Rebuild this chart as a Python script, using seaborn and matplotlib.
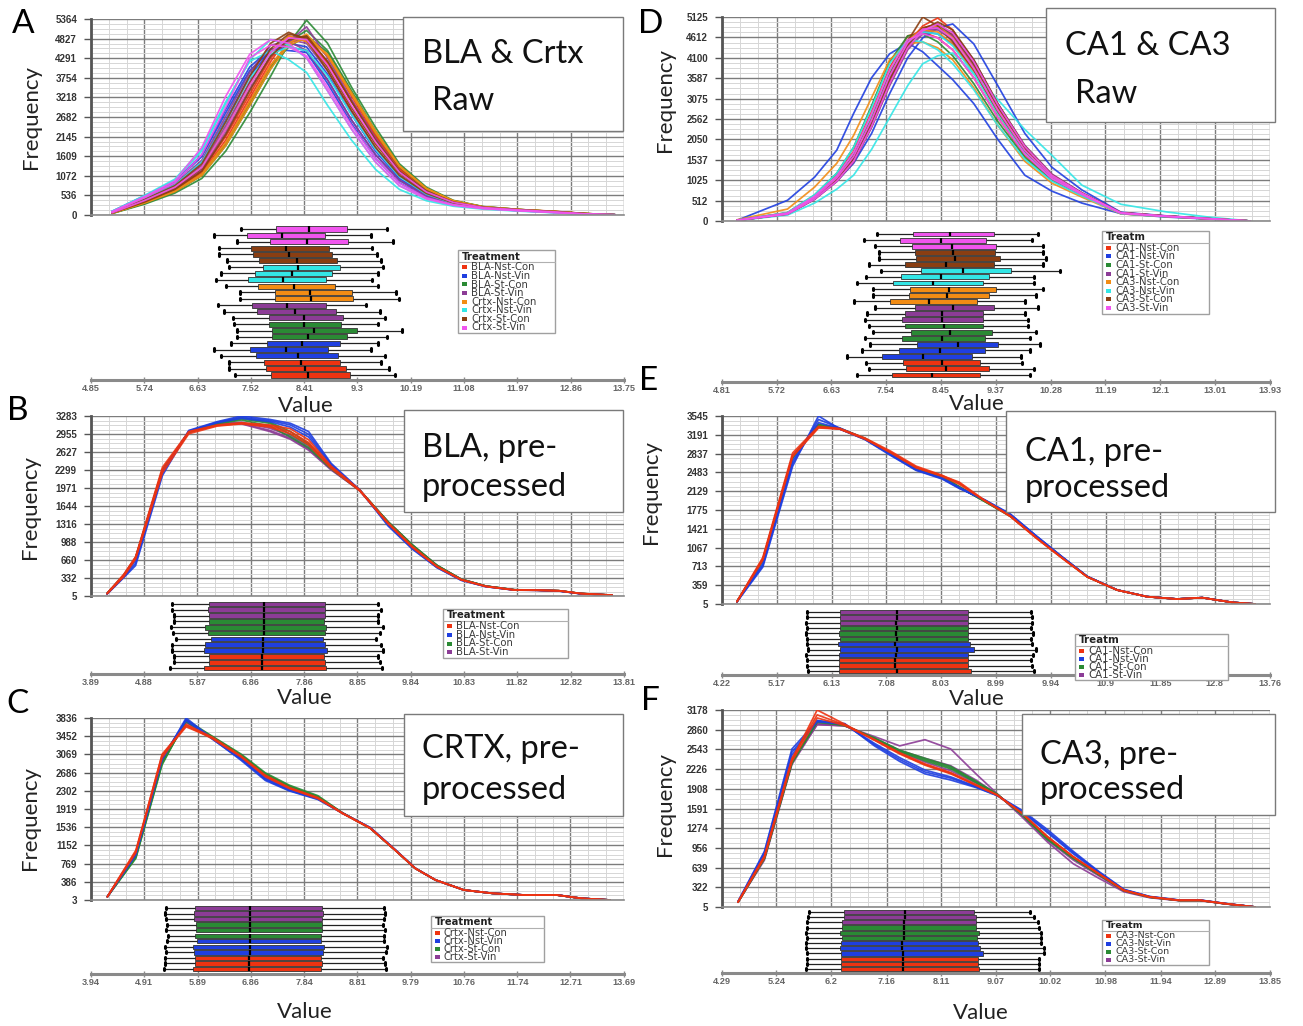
import numpy as np
import pandas as pd
import matplotlib
matplotlib.use("Agg")
import matplotlib.pyplot as plt
import seaborn as sns
from matplotlib.patches import Rectangle
from matplotlib.lines import Line2D
from matplotlib.font_manager import FontProperties

# ============================ DATA ============================
colors8 = ["#ee3311", "#1f3fe0", "#2a8a34", "#8c3c96",
           "#f28c14", "#33e6e6", "#8a3e12", "#f055ee"]

trt_A = ["BLA-Nst-Con", "BLA-Nst-Vin", "BLA-St-Con", "BLA-St-Vin",
         "Crtx-Nst-Con", "Crtx-Nst-Vin", "Crtx-St-Con", "Crtx-St-Vin"]
trt_B = ["BLA-Nst-Con", "BLA-Nst-Vin", "BLA-St-Con", "BLA-St-Vin"]
trt_C = ["Crtx-Nst-Con", "Crtx-Nst-Vin", "Crtx-St-Con", "Crtx-St-Vin"]
trt_D = ["CA1-Nst-Con", "CA1-Nst-Vin", "CA1-St-Con", "CA1-St-Vin",
         "CA3-Nst-Con", "CA3-Nst-Vin", "CA3-St-Con", "CA3-St-Vin"]
trt_E = ["CA1-Nst-Con", "CA1-Nst-Vin", "CA1-St-Con", "CA1-St-Vin"]
trt_F = ["CA3-Nst-Con", "CA3-Nst-Vin", "CA3-St-Con", "CA3-St-Vin"]

xtl_A = ["4.85", "5.74", "6.63", "7.52", "8.41", "9.3", "10.19", "11.08", "11.97", "12.86", "13.75"]
xtl_B = ["3.89", "4.88", "5.87", "6.86", "7.86", "8.85", "9.84", "10.83", "11.82", "12.82", "13.81"]
xtl_C = ["3.94", "4.91", "5.89", "6.86", "7.84", "8.81", "9.79", "10.76", "11.74", "12.71", "13.69"]
xtl_D = ["4.81", "5.72", "6.63", "7.54", "8.45", "9.37", "10.28", "11.19", "12.1", "13.01", "13.93"]
xtl_E = ["4.22", "5.17", "6.13", "7.08", "8.03", "8.99", "9.94", "10.9", "11.85", "12.8", "13.76"]
xtl_F = ["4.29", "5.24", "6.2", "7.16", "8.11", "9.07", "10.02", "10.98", "11.94", "12.89", "13.85"]

ytl_A = ["0", "536", "1072", "1609", "2145", "2682", "3218", "3754", "4291", "4827", "5364"]
ytl_B = ["5", "332", "660", "988", "1316", "1644", "1971", "2299", "2627", "2955", "3283"]
ytl_C = ["3", "386", "769", "1152", "1536", "1919", "2302", "2686", "3069", "3452", "3836"]
ytl_D = ["0", "512", "1025", "1537", "2050", "2562", "3075", "3587", "4100", "4612", "5125"]
ytl_E = ["5", "359", "713", "1067", "1421", "1775", "2129", "2483", "2837", "3191", "3545"]
ytl_F = ["5", "322", "639", "956", "1274", "1591", "1908", "2226", "2543", "2860", "3178"]

# ---- Panel A: raw BLA & Crtx (3 curves per treatment, same order as trt_A)
xgrid_A = [5.2, 5.75, 6.25, 6.7, 7.1, 7.5, 7.85, 8.15, 8.45, 8.8, 9.2, 9.6, 10.0, 10.45, 10.9, 11.4, 12.0, 12.6, 13.1, 13.6]
curves_A = [
    [50, 330, 650, 1100, 1950, 3100, 4100, 4700, 4900, 4350, 3250, 2200, 1300, 700, 380, 220, 150, 100, 40, 5],
    [60, 360, 700, 1200, 2150, 3300, 4300, 4800, 4850, 4200, 3100, 2100, 1250, 680, 360, 210, 140, 90, 35, 5],
    [55, 340, 680, 1150, 2050, 3200, 4200, 4900, 4750, 4150, 3150, 2150, 1280, 690, 370, 215, 145, 95, 40, 5],
    [100, 530, 920, 1650, 2900, 4050, 4550, 4500, 4450, 3600, 2500, 1550, 880, 480, 280, 180, 120, 70, 25, 5],
    [90, 500, 900, 1600, 2800, 3950, 4500, 4600, 4500, 3700, 2600, 1650, 950, 520, 300, 190, 125, 75, 25, 5],
    [70, 450, 830, 1450, 2600, 3800, 4500, 4700, 4600, 3850, 2750, 1750, 1000, 550, 310, 190, 125, 75, 25, 5],
    [40, 300, 600, 1000, 1750, 2800, 3800, 4700, 5330, 4700, 3500, 2400, 1400, 760, 400, 230, 150, 95, 40, 5],
    [45, 320, 640, 1080, 1900, 3000, 4000, 4750, 5050, 4500, 3400, 2300, 1350, 730, 390, 225, 150, 90, 38, 5],
    [50, 340, 660, 1100, 1950, 3050, 4050, 4600, 4900, 4450, 3350, 2250, 1320, 710, 380, 220, 145, 90, 35, 5],
    [60, 380, 730, 1250, 2250, 3450, 4350, 4750, 5150, 4300, 3150, 2100, 1200, 650, 350, 205, 140, 85, 32, 5],
    [70, 420, 790, 1350, 2450, 3650, 4500, 4800, 4700, 3950, 2850, 1850, 1080, 590, 330, 200, 135, 80, 30, 5],
    [80, 460, 850, 1500, 2700, 3900, 4650, 4750, 4500, 3700, 2600, 1650, 950, 520, 300, 190, 125, 75, 28, 5],
    [60, 400, 760, 1300, 2350, 3550, 4450, 4900, 4750, 4050, 2950, 1950, 1150, 620, 340, 200, 140, 80, 30, 5],
    [45, 330, 640, 1080, 1900, 3000, 4000, 4650, 4850, 4400, 3350, 2300, 1350, 730, 390, 225, 150, 95, 38, 5],
    [50, 340, 660, 1120, 1980, 3100, 4100, 4700, 4950, 4350, 3300, 2250, 1330, 720, 385, 220, 148, 92, 36, 5],
    [90, 520, 950, 1750, 3050, 4250, 4800, 4650, 4300, 3400, 2350, 1450, 800, 440, 265, 175, 115, 65, 22, 5],
    [100, 540, 980, 1800, 3100, 4200, 4500, 4250, 3900, 3000, 2050, 1250, 700, 390, 240, 160, 105, 60, 20, 5],
    [70, 440, 820, 1450, 2550, 3750, 4400, 4600, 4500, 3800, 2750, 1800, 1050, 570, 320, 195, 130, 78, 28, 5],
    [70, 430, 800, 1400, 2550, 3800, 4700, 5000, 4800, 3950, 2850, 1850, 1080, 590, 330, 200, 135, 80, 30, 5],
    [60, 390, 740, 1280, 2350, 3600, 4550, 4950, 4850, 4050, 2950, 1950, 1150, 620, 345, 205, 140, 85, 32, 5],
    [55, 360, 700, 1200, 2200, 3400, 4350, 4800, 4900, 4200, 3100, 2050, 1200, 650, 355, 210, 142, 88, 34, 5],
    [90, 510, 930, 1850, 3250, 4400, 4800, 4700, 4300, 3400, 2350, 1450, 800, 440, 265, 175, 115, 65, 22, 5],
    [80, 480, 880, 1650, 2950, 4300, 4650, 4600, 4350, 3500, 2450, 1550, 870, 470, 280, 180, 118, 68, 24, 5],
    [60, 400, 760, 1300, 2350, 3550, 4450, 4850, 4800, 4100, 3000, 2000, 1170, 630, 345, 205, 140, 85, 32, 5],
]
# box stats [low whisker, Q1, median, Q3, high whisker], bottom row first
boxes_A = [
    [7.25, 7.86, 8.48, 9.18, 9.92], [7.16, 7.77, 8.43, 9.10, 9.82], [7.16, 7.74, 8.35, 9.00, 9.69],
    [7.02, 7.61, 8.30, 8.98, 9.76], [6.91, 7.51, 8.11, 8.80, 9.53], [7.18, 7.79, 8.38, 9.00, 9.64],
    [7.29, 7.87, 8.48, 9.12, 9.80], [7.29, 7.87, 8.57, 9.29, 10.04], [7.24, 7.83, 8.40, 9.02, 9.64],
    [7.22, 7.83, 8.41, 9.06, 9.76], [7.07, 7.63, 8.26, 8.94, 9.67], [6.97, 7.54, 8.13, 8.78, 9.45],
    [7.34, 7.93, 8.53, 9.23, 10.00], [7.34, 7.93, 8.51, 9.20, 9.94], [7.10, 7.64, 8.24, 8.92, 9.65],
    [6.93, 7.47, 8.06, 8.78, 9.54], [7.02, 7.59, 8.20, 8.88, 9.64], [7.16, 7.73, 8.31, 9.00, 9.72],
    [7.12, 7.66, 8.29, 8.96, 9.70], [6.98, 7.56, 8.16, 8.88, 9.63], [6.98, 7.53, 8.11, 8.82, 9.55],
    [7.29, 7.84, 8.45, 9.14, 9.90], [6.90, 7.45, 8.04, 8.75, 9.53], [7.36, 7.94, 8.49, 9.12, 9.79],
]

# ---- Panel B: BLA pre-processed
xgrid_B = [4.19, 4.5, 4.72, 5.22, 5.71, 6.24, 6.69, 7.22, 7.6, 7.94, 8.36, 8.89, 9.42, 9.87, 10.33, 10.78, 11.24, 11.77, 12.2, 12.6, 13.0, 13.59]
curves_B = [
    [50, 380, 700, 2300, 2990, 3110, 3150, 3100, 3000, 2800, 2350, 1930, 1330, 900, 540, 300, 180, 115, 110, 100, 50, 20],
    [45, 360, 680, 2250, 2960, 3100, 3140, 3080, 2960, 2760, 2330, 1920, 1320, 890, 535, 300, 178, 113, 108, 98, 48, 18],
    [55, 400, 720, 2350, 3000, 3120, 3160, 3120, 3050, 2850, 2370, 1940, 1340, 910, 545, 305, 182, 117, 112, 102, 52, 22],
    [40, 340, 560, 2200, 3020, 3180, 3283, 3220, 3150, 3000, 2420, 1940, 1280, 860, 520, 290, 175, 112, 108, 95, 45, 18],
    [45, 350, 600, 2250, 3010, 3170, 3260, 3200, 3120, 2950, 2400, 1935, 1300, 870, 525, 295, 176, 114, 110, 97, 47, 19],
    [48, 370, 650, 2280, 3000, 3160, 3240, 3180, 3080, 2900, 2380, 1930, 1310, 880, 530, 298, 178, 115, 110, 98, 48, 20],
    [50, 380, 690, 2290, 2990, 3150, 3230, 3150, 2950, 2750, 2340, 1935, 1350, 930, 560, 310, 185, 118, 112, 100, 50, 20],
    [52, 385, 700, 2300, 2985, 3140, 3210, 3100, 2900, 2700, 2320, 1930, 1360, 940, 565, 312, 186, 119, 113, 101, 51, 21],
    [48, 375, 685, 2280, 2995, 3160, 3250, 3170, 3000, 2780, 2350, 1935, 1345, 925, 555, 308, 184, 117, 111, 100, 50, 20],
    [50, 380, 700, 2300, 2990, 3130, 3150, 3020, 2880, 2680, 2310, 1930, 1350, 930, 560, 310, 185, 118, 112, 100, 50, 20],
    [52, 390, 710, 2310, 2995, 3140, 3170, 3060, 2920, 2720, 2330, 1932, 1345, 925, 555, 308, 184, 117, 111, 99, 49, 20],
    [48, 375, 690, 2290, 2985, 3125, 3140, 3000, 2860, 2660, 2300, 1928, 1355, 935, 562, 311, 186, 118, 112, 100, 50, 20],
]
boxes_B = [
    [5.36, 6.00, 7.08, 8.27, 9.31], [5.43, 6.08, 7.08, 8.24, 9.27], [5.43, 6.08, 7.08, 8.23, 9.24],
    [5.39, 6.00, 7.09, 8.29, 9.33], [5.39, 6.02, 7.10, 8.24, 9.28], [5.47, 6.12, 7.10, 8.20, 9.19],
    [5.41, 6.06, 7.11, 8.24, 9.27], [5.37, 6.02, 7.11, 8.27, 9.33], [5.43, 6.08, 7.11, 8.22, 9.24],
    [5.43, 6.08, 7.11, 8.24, 9.24], [5.40, 6.06, 7.11, 8.24, 9.29], [5.40, 6.08, 7.11, 8.24, 9.24],
]

# ---- Panel C: CRTX pre-processed
xgrid_C = [4.24, 4.76, 5.24, 5.68, 6.16, 6.68, 7.13, 7.57, 8.09, 8.54, 9.05, 9.5, 9.87, 10.24, 10.76, 11.28, 11.87, 12.46, 12.91, 13.43]
curves_C = [
    [73, 1050, 3050, 3650, 3420, 3030, 2620, 2360, 2150, 1830, 1515, 1058, 671, 425, 214, 144, 108, 108, 38, 3],
    [70, 1000, 3069, 3680, 3400, 3020, 2600, 2350, 2140, 1825, 1510, 1055, 668, 423, 212, 143, 107, 107, 37, 3],
    [75, 1020, 3000, 3700, 3430, 3040, 2630, 2370, 2160, 1835, 1520, 1060, 673, 427, 215, 145, 109, 109, 39, 3],
    [70, 950, 2950, 3836, 3400, 2950, 2520, 2300, 2120, 1830, 1530, 1070, 675, 425, 214, 144, 108, 108, 38, 3],
    [72, 970, 2980, 3800, 3390, 2970, 2540, 2310, 2130, 1835, 1525, 1065, 672, 424, 213, 144, 108, 108, 38, 3],
    [74, 990, 3000, 3780, 3410, 2990, 2560, 2320, 2140, 1832, 1520, 1062, 672, 425, 214, 144, 108, 108, 38, 3],
    [70, 880, 2850, 3800, 3450, 3080, 2680, 2420, 2200, 1840, 1515, 1058, 671, 425, 214, 144, 108, 108, 38, 3],
    [72, 900, 2880, 3780, 3440, 3060, 2660, 2400, 2180, 1838, 1512, 1056, 670, 424, 213, 143, 107, 107, 37, 3],
    [74, 920, 2900, 3760, 3430, 3050, 2640, 2390, 2170, 1835, 1514, 1057, 671, 425, 214, 144, 108, 108, 38, 3],
    [73, 980, 2950, 3760, 3420, 3010, 2580, 2340, 2160, 1835, 1515, 1058, 671, 425, 214, 144, 108, 110, 38, 3],
    [72, 960, 2940, 3740, 3410, 3000, 2570, 2330, 2150, 1833, 1515, 1058, 671, 425, 214, 144, 108, 110, 38, 3],
    [74, 1000, 2970, 3750, 3425, 3020, 2590, 2345, 2165, 1836, 1516, 1059, 672, 426, 215, 145, 109, 111, 39, 3],
]
boxes_C = [
    [5.27, 5.80, 6.83, 8.15, 9.34], [5.29, 5.84, 6.83, 8.17, 9.32], [5.29, 5.84, 6.83, 8.15, 9.29],
    [5.31, 5.82, 6.84, 8.19, 9.33], [5.29, 5.80, 6.84, 8.21, 9.36], [5.33, 5.87, 6.84, 8.15, 9.30],
    [5.35, 5.84, 6.84, 8.15, 9.30], [5.31, 5.86, 6.84, 8.17, 9.32], [5.33, 5.86, 6.84, 8.17, 9.28],
    [5.31, 5.83, 6.84, 8.17, 9.30], [5.29, 5.83, 6.85, 8.18, 9.32], [5.31, 5.84, 6.85, 8.17, 9.30],
]

# ---- Panel D: raw CA1 & CA3
xgrid_D = [5.06, 5.9, 6.35, 6.72, 7.0, 7.3, 7.6, 7.9, 8.15, 8.4, 8.65, 9.0, 9.4, 9.85, 10.3, 10.8, 11.45, 12.2, 12.9, 13.6]
curves_D = [
    [20, 190, 600, 1100, 1650, 2600, 3700, 4550, 4850, 4950, 4650, 3850, 2800, 1800, 1130, 690, 200, 120, 60, 0],
    [15, 170, 550, 1000, 1500, 2400, 3500, 4450, 4900, 5100, 4800, 3950, 2900, 1850, 1150, 700, 210, 125, 60, 0],
    [25, 200, 630, 1150, 1750, 2750, 3850, 4650, 4750, 4600, 4300, 3600, 2600, 1650, 1050, 650, 190, 115, 55, 0],
    [17, 520, 1100, 1780, 2700, 3600, 4200, 4470, 4250, 3900, 3550, 2950, 2050, 1150, 750, 450, 185, 100, 50, 0],
    [15, 180, 560, 1000, 1450, 2200, 3200, 4100, 4600, 4850, 4950, 4450, 3400, 2200, 1350, 780, 220, 130, 65, 0],
    [20, 200, 620, 1120, 1700, 2650, 3750, 4500, 4750, 4700, 4450, 3750, 2700, 1700, 1080, 670, 195, 120, 58, 0],
    [18, 190, 590, 1080, 1620, 2550, 3650, 4500, 4800, 4850, 4550, 3800, 2750, 1750, 1100, 680, 195, 118, 58, 0],
    [20, 210, 650, 1200, 1850, 2900, 4000, 4650, 4700, 4500, 4150, 3450, 2500, 1600, 1020, 640, 185, 112, 55, 0],
    [15, 175, 560, 1020, 1520, 2400, 3450, 4350, 4750, 4900, 4700, 3950, 2900, 1850, 1150, 700, 205, 122, 60, 0],
    [15, 170, 540, 990, 1480, 2350, 3400, 4300, 4700, 4850, 4750, 4050, 2950, 1900, 1180, 710, 210, 125, 62, 0],
    [18, 185, 580, 1060, 1600, 2500, 3600, 4450, 4780, 4800, 4550, 3820, 2780, 1780, 1110, 685, 198, 118, 58, 0],
    [16, 178, 565, 1030, 1550, 2450, 3550, 4400, 4750, 4880, 4650, 3900, 2850, 1820, 1130, 695, 202, 120, 60, 0],
    [30, 300, 850, 1450, 2150, 3100, 4050, 4450, 4500, 4350, 4050, 3350, 2400, 1500, 950, 600, 180, 110, 55, 0],
    [20, 200, 620, 1120, 1700, 2650, 3750, 4550, 4800, 4750, 4450, 3750, 2700, 1720, 1090, 675, 196, 118, 58, 0],
    [18, 190, 600, 1100, 1650, 2600, 3700, 4500, 4850, 4900, 4600, 3850, 2800, 1780, 1120, 690, 200, 120, 60, 0],
    [12, 150, 450, 800, 1150, 1800, 2600, 3400, 3950, 4150, 4220, 3700, 3050, 2300, 1650, 900, 420, 230, 100, 0],
    [20, 195, 610, 1100, 1680, 2620, 3720, 4500, 4750, 4700, 4400, 3700, 2700, 1720, 1090, 675, 196, 118, 58, 0],
    [22, 210, 660, 1200, 1850, 2850, 3950, 4550, 4500, 4300, 3950, 3300, 2400, 1550, 1000, 630, 185, 110, 55, 0],
    [15, 175, 560, 1010, 1500, 2380, 3450, 4350, 4800, 5000, 4800, 4050, 2950, 1880, 1160, 700, 205, 122, 60, 0],
    [16, 180, 570, 1040, 1560, 2450, 3550, 4420, 4850, 4950, 4700, 3950, 2880, 1840, 1140, 695, 202, 120, 60, 0],
    [18, 190, 600, 1090, 1640, 2560, 3680, 4520, 5125, 4900, 4500, 3800, 2750, 1760, 1110, 680, 198, 118, 58, 0],
    [17, 185, 590, 1080, 1620, 2540, 3650, 4480, 4820, 4850, 4580, 3830, 2780, 1770, 1110, 685, 198, 118, 58, 0],
    [20, 200, 620, 1130, 1720, 2700, 3800, 4550, 4700, 4600, 4300, 3600, 2600, 1680, 1060, 665, 192, 116, 57, 0],
    [15, 172, 550, 1000, 1500, 2380, 3450, 4350, 4780, 4950, 4720, 4000, 2920, 1870, 1150, 700, 205, 122, 60, 0],
]
boxes_D = [
    [7.06, 7.64, 8.31, 9.11, 9.93], [7.25, 7.87, 8.53, 9.25, 10.00], [7.21, 7.83, 8.47, 9.11, 9.81],
    [6.89, 7.48, 8.15, 8.97, 9.79], [7.14, 7.76, 8.44, 9.18, 9.93], [7.28, 8.06, 8.73, 9.40, 10.11],
    [7.19, 7.81, 8.47, 9.19, 9.93], [7.32, 7.95, 8.60, 9.30, 10.04], [7.25, 7.86, 8.50, 9.16, 9.90],
    [7.19, 7.81, 8.47, 9.16, 9.90], [7.22, 7.85, 8.47, 9.16, 9.86], [7.35, 8.03, 8.66, 9.33, 10.07],
    [7.00, 7.60, 8.26, 9.05, 9.86], [7.32, 7.92, 8.56, 9.26, 10.03], [7.32, 7.94, 8.58, 9.37, 10.15],
    [7.06, 7.65, 8.32, 9.16, 10.00], [7.21, 7.79, 8.45, 9.25, 10.00], [7.46, 8.12, 8.82, 9.62, 10.43],
    [7.25, 7.86, 8.54, 9.33, 10.16], [7.42, 8.04, 8.68, 9.44, 10.20], [7.42, 8.03, 8.66, 9.35, 10.15],
    [7.35, 7.98, 8.63, 9.37, 10.15], [7.18, 7.78, 8.45, 9.21, 9.97], [7.39, 7.99, 8.61, 9.33, 10.07],
]

# ---- Panel E: CA1 pre-processed
xgrid_E = [4.48, 4.93, 5.45, 5.9, 6.27, 6.71, 7.16, 7.6, 8.05, 8.35, 8.79, 9.24, 9.69, 10.13, 10.58, 11.1, 11.62, 12.14, 12.58, 13.1, 13.5]
curves_E = [
    [49, 850, 2800, 3330, 3300, 3110, 2860, 2580, 2420, 2300, 1960, 1660, 1250, 880, 515, 268, 143, 99, 124, 36, 5],
    [52, 880, 2850, 3350, 3310, 3130, 2880, 2600, 2430, 2280, 1950, 1650, 1245, 875, 512, 266, 142, 98, 123, 35, 5],
    [47, 830, 2780, 3320, 3300, 3120, 2850, 2570, 2410, 2260, 1955, 1665, 1255, 882, 516, 268, 143, 99, 124, 36, 5],
    [45, 700, 2600, 3545, 3300, 3100, 2800, 2520, 2360, 2180, 1970, 1700, 1290, 905, 525, 270, 144, 100, 125, 37, 5],
    [47, 730, 2650, 3480, 3320, 3110, 2810, 2530, 2370, 2190, 1965, 1690, 1285, 900, 522, 269, 144, 100, 125, 37, 5],
    [48, 760, 2700, 3420, 3310, 3120, 2820, 2540, 2380, 2200, 1962, 1685, 1280, 897, 520, 268, 143, 99, 124, 36, 5],
    [49, 820, 2760, 3380, 3310, 3120, 2840, 2560, 2410, 2210, 1940, 1660, 1265, 890, 518, 268, 143, 99, 124, 36, 5],
    [50, 835, 2780, 3370, 3305, 3115, 2835, 2555, 2400, 2205, 1935, 1655, 1262, 888, 517, 267, 143, 99, 124, 36, 5],
    [48, 815, 2750, 3390, 3315, 3125, 2845, 2565, 2415, 2215, 1945, 1665, 1268, 891, 519, 268, 143, 99, 124, 36, 5],
    [49, 840, 2790, 3360, 3300, 3110, 2830, 2540, 2380, 2200, 1950, 1670, 1272, 893, 520, 268, 143, 99, 124, 36, 5],
    [50, 845, 2795, 3355, 3298, 3105, 2825, 2535, 2375, 2195, 1948, 1672, 1274, 894, 521, 269, 143, 99, 124, 36, 5],
    [48, 835, 2785, 3365, 3302, 3115, 2835, 2545, 2385, 2205, 1952, 1668, 1270, 892, 519, 268, 143, 99, 124, 36, 5],
]
boxes_E = [
    [5.72, 6.25, 7.27, 8.56, 9.66], [5.70, 6.25, 7.24, 8.51, 9.62], [5.70, 6.25, 7.24, 8.51, 9.60],
    [5.68, 6.25, 7.25, 8.51, 9.63], [5.72, 6.28, 7.27, 8.61, 9.68], [5.70, 6.24, 7.24, 8.53, 9.62],
    [5.70, 6.27, 7.27, 8.51, 9.60], [5.68, 6.25, 7.25, 8.51, 9.63], [5.70, 6.27, 7.27, 8.51, 9.60],
    [5.68, 6.27, 7.25, 8.51, 9.62], [5.70, 6.28, 7.27, 8.51, 9.62], [5.70, 6.27, 7.27, 8.51, 9.60],
]

# ---- Panel F: CA3 pre-processed
xgrid_F = [4.57, 5.03, 5.51, 5.95, 6.43, 6.95, 7.39, 7.83, 8.28, 8.72, 9.09, 9.53, 9.97, 10.42, 10.86, 11.3, 11.75, 12.26, 12.63, 13.07, 13.59]
curves_F = [
    [86, 812, 2372, 3178, 2950, 2700, 2480, 2300, 2160, 1970, 1810, 1511, 1134, 812, 543, 274, 167, 113, 113, 59, 5],
    [90, 830, 2400, 3100, 2940, 2690, 2470, 2290, 2150, 1965, 1805, 1508, 1130, 808, 540, 272, 166, 112, 112, 58, 5],
    [82, 800, 2350, 3050, 2930, 2700, 2490, 2310, 2170, 1975, 1812, 1515, 1138, 815, 545, 275, 168, 114, 114, 60, 5],
    [95, 900, 2550, 3000, 2960, 2600, 2350, 2150, 2050, 1930, 1800, 1560, 1250, 900, 580, 290, 175, 118, 118, 62, 5],
    [92, 880, 2500, 2990, 2950, 2620, 2380, 2180, 2080, 1940, 1800, 1545, 1220, 880, 570, 285, 172, 116, 116, 61, 5],
    [90, 860, 2450, 3010, 2945, 2640, 2410, 2210, 2100, 1950, 1805, 1535, 1200, 860, 560, 282, 170, 115, 115, 60, 5],
    [84, 790, 2330, 2990, 2930, 2720, 2520, 2380, 2250, 2020, 1820, 1490, 1100, 790, 530, 270, 165, 112, 112, 58, 5],
    [85, 800, 2340, 2980, 2935, 2710, 2510, 2360, 2230, 2010, 1815, 1495, 1110, 795, 533, 271, 166, 112, 112, 58, 5],
    [83, 785, 2320, 3000, 2925, 2730, 2530, 2400, 2270, 2030, 1825, 1485, 1090, 785, 528, 269, 164, 111, 111, 57, 5],
    [80, 760, 2300, 2950, 2920, 2750, 2600, 2700, 2550, 2150, 1830, 1450, 1050, 700, 470, 250, 155, 108, 108, 55, 5],
    [84, 790, 2330, 2940, 2925, 2720, 2530, 2400, 2280, 2050, 1820, 1470, 1080, 760, 510, 262, 160, 110, 110, 56, 5],
    [85, 800, 2350, 2960, 2930, 2710, 2500, 2340, 2200, 2000, 1815, 1490, 1110, 790, 530, 270, 165, 111, 111, 57, 5],
]
boxes_F = [
    [5.75, 6.36, 7.45, 8.77, 9.82], [5.77, 6.37, 7.45, 8.75, 9.82], [5.77, 6.37, 7.45, 8.75, 9.82],
    [5.77, 6.36, 7.45, 8.84, 9.91], [5.75, 6.34, 7.43, 8.79, 9.90], [5.75, 6.36, 7.43, 8.75, 9.86],
    [5.77, 6.38, 7.46, 8.73, 9.86], [5.75, 6.34, 7.46, 8.77, 9.86], [5.77, 6.38, 7.46, 8.72, 9.82],
    [5.77, 6.39, 7.46, 8.72, 9.81], [5.79, 6.41, 7.48, 8.72, 9.73], [5.80, 6.41, 7.48, 8.68, 9.66],
]

# ============================ STYLE / LAYOUT ============================
sns.set_theme(style="white")
plt.rcParams['font.family'] = ['Lato', 'DejaVu Sans']

W, H = 1303, 1026
fig = plt.figure(figsize=(W / 100, H / 100), dpi=100)
fig.patch.set_facecolor("white")

tick_fp = FontProperties(family="Liberation Sans", weight="bold", size=7)
xtick_fp = FontProperties(family="Liberation Sans", weight="bold", size=6.6)

COLS = {"L": (91, 624), "R": (722, 1270)}

# legend spec: (x0, y0, width, title row height, row pitch, font size)
panels = [
    dict(letter="A", col="L", trts=trt_A, xg=xgrid_A, curves=curves_A, boxes=boxes_A, xtl=xtl_A, ytl=ytl_A,
         line=(19, 215), rows=(229, 375, 380), let=(23, 24), freq=(31, 117), val=(306, 406),
         leg=(458, 250, 97, 12, 8.6, 7.3), legtitle="Treatment", tbox=(403, 17, 623, 131),
         tlines=[("BLA & Crtx", 422, 54), ("Raw", 432, 101)], raw=True),
    dict(letter="B", col="L", trts=trt_B, xg=xgrid_B, curves=curves_B, boxes=boxes_B, xtl=xtl_B, ytl=ytl_B,
         line=(416, 596), rows=(604, 668, 674), let=(18, 411), freq=(30, 507), val=(305, 698),
         leg=(443, 609, 125, 12, 8.6, 7.3), legtitle="Treatment", tbox=(404, 410, 623, 512),
         tlines=[("BLA, pre-", 422, 448), ("processed", 422, 487)], raw=False),
    dict(letter="C", col="L", trts=trt_C, xg=xgrid_C, curves=curves_C, boxes=boxes_C, xtl=xtl_C, ytl=ytl_C,
         line=(718, 900), rows=(908, 969, 974), let=(18, 704), freq=(30, 818), val=(305, 1012),
         leg=(431, 916, 113, 11.5, 8.0, 7.2), legtitle="Treatment", tbox=(404, 714, 623, 816),
         tlines=[("CRTX, pre-", 422, 749), ("processed", 422, 790)], raw=False),
    dict(letter="D", col="R", trts=trt_D, xg=xgrid_D, curves=curves_D, boxes=boxes_D, xtl=xtl_D, ytl=ytl_D,
         line=(17, 221), rows=(234, 375, 382), let=(651, 24), freq=(665, 100), val=(977, 404),
         leg=(1102, 231, 107, 11.5, 8.6, 7.3), legtitle="Treatm", tbox=(1046, 8, 1275, 122),
         tlines=[("CA1 & CA3", 1065, 46), ("Raw", 1075, 94)], raw=True),
    dict(letter="E", col="R", trts=trt_E, xg=xgrid_E, curves=curves_E, boxes=boxes_E, xtl=xtl_E, ytl=ytl_E,
         line=(416, 604), rows=(612, 671, 675), let=(649, 381), freq=(651, 492), val=(977, 699),
         leg=(1075, 634, 153, 11.5, 8.0, 7.4), legtitle="Treatm", tbox=(1006, 411, 1275, 512),
         tlines=[("CA1, pre-", 1025, 452), ("processed", 1025, 488)], raw=False),
    dict(letter="F", col="R", trts=trt_F, xg=xgrid_F, curves=curves_F, boxes=boxes_F, xtl=xtl_F, ytl=ytl_F,
         line=(710, 907), rows=(912, 969, 973), let=(650, 701), freq=(665, 804), val=(981, 1013),
         leg=(1102, 920, 107, 10.5, 8.0, 6.8), legtitle="Treatm", tbox=(1022, 714, 1275, 815),
         tlines=[("CA3, pre-", 1040, 755), ("processed", 1040, 790)], raw=False),
]


def fx(px):
    return px / W


def fy(py):
    return 1 - py / H


def draw_legend(spec, title, labels, cols):
    x0, y0, w, th, pitch, fs = spec
    n = len(labels)
    h = th + n * pitch + 2.5
    fig.add_artist(Rectangle((fx(x0), fy(y0 + h)), fx(w), h / H, transform=fig.transFigure,
                             facecolor="white", edgecolor="#a0a0a0", lw=1.0, zorder=6))
    fig.text(fx(x0 + 4), fy(y0 + th / 2 + 0.5), title, fontsize=fs, fontweight="bold",
             family="DejaVu Sans", color="#222222", ha="left", va="center", zorder=7)
    fig.add_artist(Line2D([fx(x0), fx(x0 + w)], [fy(y0 + th), fy(y0 + th)], transform=fig.transFigure,
                          color="#b0b0b0", lw=0.8, zorder=7))
    for i, (lab, c) in enumerate(zip(labels, cols)):
        yc = y0 + th + pitch * (i + 0.5) + 1
        fig.add_artist(Rectangle((fx(x0 + 4), fy(yc + 2)), fx(5), 4 / H, transform=fig.transFigure,
                                 facecolor=c, edgecolor="none", zorder=7))
        fig.text(fx(x0 + 13), fy(yc), lab, fontsize=fs, family="DejaVu Sans", color="#3a3a3a",
                 ha="left", va="center", zorder=7)


for p in panels:
    L, R = COLS[p["col"]]
    trts = p["trts"]
    pal = dict(zip(trts, colors8[:len(trts)]))
    xt = [float(s) for s in p["xtl"]]
    yt = [float(s) for s in p["ytl"]]

    # ---------------- line plot ----------------
    top, bot = p["line"]
    ax = fig.add_axes([fx(L), fy(bot), fx(R - L), (bot - top) / H])
    recs = []
    for i, ys in enumerate(p["curves"]):
        for xv, yv in zip(p["xg"], ys):
            recs.append((f"c{i}", trts[i // 3], xv, yv))
    df = pd.DataFrame(recs, columns=["curve", "trt", "x", "y"])
    sns.lineplot(data=df, x="x", y="y", hue="trt", units="curve", estimator=None,
                 palette=pal, hue_order=trts[::-1] if not p["raw"] else trts,
                 sort=False, lw=1.25, alpha=0.9, legend=False, ax=ax)
    ax.set_xlim(xt[0], xt[-1])
    ax.set_ylim(yt[0], yt[-1])
    ax.set_xticks(xt)
    ax.set_xticklabels([])
    ax.set_yticks(yt)
    ax.set_yticklabels(p["ytl"], fontproperties=tick_fp, color="#333333")
    minx = []
    for a, b in zip(xt[:-1], xt[1:]):
        minx += [a + (b - a) / 3, a + 2 * (b - a) / 3]
    miny = []
    for a, b in zip(yt[:-1], yt[1:]):
        miny += [a + (b - a) * k / 4 for k in (1, 2, 3)]
    ax.set_xticks(minx, minor=True)
    ax.set_yticks(miny, minor=True)
    ax.grid(which="major", color="#7c7c7c", lw=1.0)
    ax.grid(which="minor", color="#d6d6d6", lw=0.7)
    ax.set_axisbelow(True)
    ax.set_xlabel("")
    ax.set_ylabel("")
    for s in ["top", "right"]:
        ax.spines[s].set_visible(False)
    ax.spines["left"].set_color("#555555")
    ax.spines["left"].set_linewidth(2.0)
    ax.spines["bottom"].set_color("#8a8a8a")
    ax.spines["bottom"].set_linewidth(1.2)
    ax.tick_params(axis="y", which="major", length=5, width=1, color="#555555", pad=5, left=True)
    ax.tick_params(axis="x", which="both", length=0)
    ax.tick_params(axis="y", which="minor", length=0)

    # ---------------- box plot ----------------
    boxes = p["boxes"]
    n = len(boxes)
    r0, r1, axy = p["rows"]
    pitch = (r1 - r0) / (n - 1)
    btop = r0 - pitch * 0.75
    bx = fig.add_axes([fx(L), fy(axy), fx(R - L), (axy - btop) / H])
    brec = []
    for i, st in enumerate(boxes):
        for v in st:
            brec.append((f"r{i:02d}", trts[i // 3], v))
    bdf = pd.DataFrame(brec, columns=["row", "trt", "value"])
    order = [f"r{i:02d}" for i in range(n)][::-1]
    sns.boxplot(data=bdf, x="value", y="row", hue="trt", order=order, hue_order=trts,
                palette=pal, orient="y", dodge=False, whis=np.inf, width=0.8,
                saturation=1, linewidth=0.6, linecolor="#333333", showfliers=False,
                medianprops=dict(color="black", lw=1.6),
                whiskerprops=dict(color="#222222", lw=0.9),
                capprops=dict(color="black", lw=2.2),
                legend=False, ax=bx)
    bx.set_ylim((n - 1) + (axy - r1) / pitch, -0.75)
    bx.set_xlim(xt[0], xt[-1])
    bx.set_yticks([])
    bx.set_xticks(xt)
    bx.set_xticklabels(p["xtl"], fontproperties=xtick_fp, color="#666666")
    bx.set_xlabel("")
    bx.set_ylabel("")
    bx.set_facecolor("none")
    for s in ["top", "right", "left"]:
        bx.spines[s].set_visible(False)
    bx.spines["bottom"].set_color("#8a8a8a")
    bx.spines["bottom"].set_linewidth(2.2)
    bx.tick_params(axis="x", direction="inout", length=5, width=1, color="#8a8a8a", pad=0.5, bottom=True)

    # ---------------- legend ----------------
    draw_legend(p["leg"], p["legtitle"], trts, [pal[t] for t in trts])

    # ---------------- texts ----------------
    fig.text(fx(p["let"][0]), fy(p["let"][1]), p["letter"], fontsize=24, ha="center", va="center",
             color="black")
    fig.text(fx(p["freq"][0]), fy(p["freq"][1]), "Frequency", fontsize=16, rotation=90,
             ha="center", va="center", color="#222222")
    fig.text(fx(p["val"][0]), fy(p["val"][1]), "Value", fontsize=16, ha="center", va="center",
             color="#222222")
    x0, y0, x1, y1 = p["tbox"]
    fig.add_artist(Rectangle((fx(x0), fy(y1)), fx(x1 - x0), (y1 - y0) / H, transform=fig.transFigure,
                             facecolor="white", edgecolor="#7a7a7a", lw=1.0, zorder=2))
    for txt, tx, ty in p["tlines"]:
        fig.text(fx(tx), fy(ty), txt, fontsize=23.5, ha="left", va="center", color="#111111", zorder=3)

fig.savefig("out.png", dpi=100, facecolor="white")
